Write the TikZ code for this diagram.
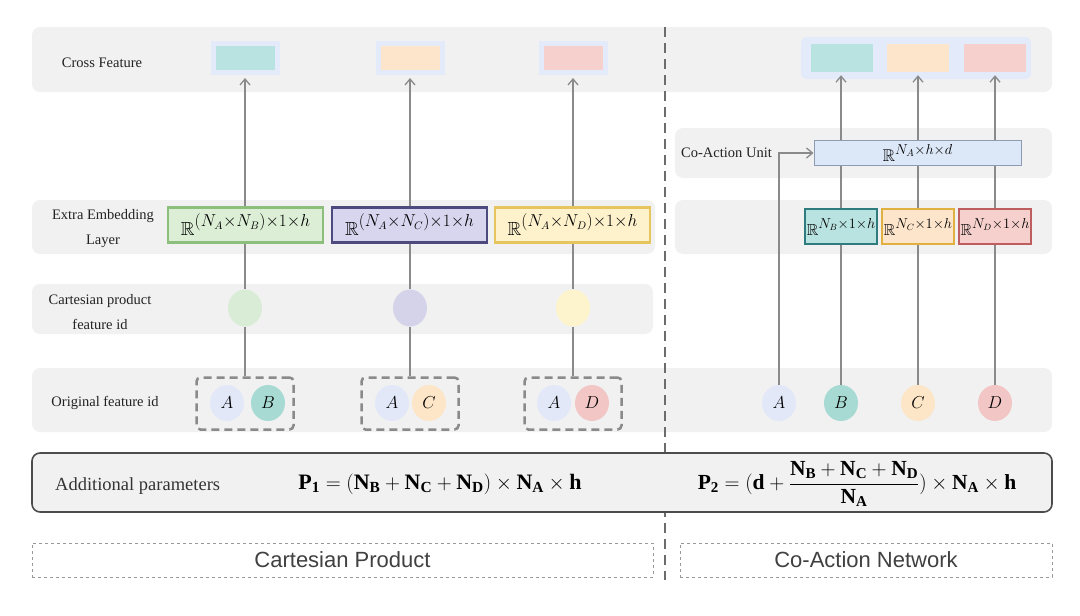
\documentclass[tikz,border=0pt]{standalone}
\usepackage{amsmath,amssymb}
\usepackage{fontspec}
\setmainfont{Liberation Serif}
\setsansfont{Liberation Sans}
\usetikzlibrary{arrows.meta,shapes.geometric}
\pgfdeclarelayer{bands}
\pgfdeclarelayer{lines}
\pgfsetlayers{bands,lines,main}
\definecolor{bandc}{HTML}{F1F1F2}
\definecolor{glowc}{HTML}{E3EAFA}
\definecolor{tealF}{HTML}{B9E3E0}
\definecolor{orangeF}{HTML}{FDE5CC}
\definecolor{pinkF}{HTML}{F5D0CC}
\definecolor{greenB}{HTML}{8CBF7C}
\definecolor{greenF}{HTML}{DCEFD6}
\definecolor{purpB}{HTML}{4C4A7E}
\definecolor{purpF}{HTML}{D8D6EF}
\definecolor{yelB}{HTML}{E6C45E}
\definecolor{yelF}{HTML}{FDF2CC}
\definecolor{tealB}{HTML}{2F7C7E}
\definecolor{oraB}{HTML}{E0B040}
\definecolor{pinkB}{HTML}{BE5E5E}
\definecolor{circA}{HTML}{E3E8F8}
\definecolor{circB}{HTML}{A6DAD2}
\definecolor{circC}{HTML}{FDE6C8}
\definecolor{circD}{HTML}{F1C6C4}
\definecolor{cpG}{HTML}{D9ECD5}
\definecolor{cpP}{HTML}{D5D3EA}
\definecolor{cpY}{HTML}{FDF3CD}
\definecolor{connc}{HTML}{8A8A8A}
\definecolor{coaF}{HTML}{DCE8F8}
\definecolor{coaB}{HTML}{8E9CB2}
\definecolor{txt}{HTML}{222222}
% R with a large raised superscript: #1 = superscript size, #2 = raise, #3 = superscript
\newcommand{\bigsup}[3]{\mathbb{R}\raisebox{#2}{\fontsize{#1}{#1}\selectfont$#3$}}
\newcommand{\tx}{{\times}}
\begin{document}
\begin{tikzpicture}[x=1pt,y=-1pt,
  band/.style={fill=bandc,rounded corners=8pt},
  lab/.style={font=\fontsize{14.5}{25}\selectfont,text=txt,align=center,inner sep=0pt},
  crossbox/.style={minimum width=64pt,minimum height=29pt,draw=glowc,line width=5pt,inner sep=0pt},
  rcross/.style={minimum width=62pt,minimum height=28pt,inner sep=0pt},
  embbox/.style={minimum width=155pt,minimum height=35pt,line width=2.6pt,inner sep=0pt,font=\fontsize{19}{20}\selectfont},
  rembbox/.style={minimum width=72pt,minimum height=35pt,line width=2.6pt,inner sep=0pt,font=\fontsize{16}{16}\selectfont},
  cpcirc/.style={ellipse,minimum width=34pt,minimum height=37pt,inner sep=0pt},
  fcirc/.style={ellipse,minimum width=34pt,minimum height=36pt,inner sep=0pt,font=\fontsize{19}{20}\selectfont},
  grpbox/.style={minimum width=97pt,minimum height=52pt,draw=connc,line width=2.5pt,dash pattern=on 8pt off 5pt,rounded corners=4pt},
  conn/.style={draw=connc,line width=1.4pt},
  arr/.style={conn,-{Straight Barb[length=6pt,width=10pt,line width=1.3pt]}},
  bottombox/.style={draw=gray!80,dashed,line width=1pt,minimum height=34pt,font=\sffamily\fontsize{22}{24}\selectfont,text=black!75}
]
\useasboundingbox (0,0) rectangle (1080,616);

% bands
\begin{pgfonlayer}{bands}
\fill[band] (32,27) rectangle (1052,92);
\fill[band] (675,128) rectangle (1052,178);
\fill[band] (32,200) rectangle (655,254);
\fill[band] (675,200) rectangle (1052,254);
\fill[band] (32,284) rectangle (653,334);
\fill[band] (32,368) rectangle (1052,432);
\fill[glowc,rounded corners=5pt] (801,37) rectangle (1031,79);
\end{pgfonlayer}

% row labels
\node[lab] (lcf) at (102,63) {Cross Feature};
\node[lab] (lee) at (103,229) {Extra Embedding\\Layer};
\node[lab] (lcp) at (100,312) {Cartesian product\\feature id};
\node[lab] (lof) at (105,403) {Original feature id};
\node[lab,anchor=west] (lcu) at (681,153) {Co-Action Unit};

% left cross features
\node[crossbox,fill=tealF] (cf1) at (245,58) {};
\node[crossbox,fill=orangeF] (cf2) at (410,58) {};
\node[crossbox,fill=pinkF] (cf3) at (573,58) {};

% left embeddings
\node[embbox,draw=greenB,fill=greenF] (e1) at (245.5,225) {$\bigsup{16}{9pt}{(N_A\tx N_B)\tx 1\tx h}$};
\node[embbox,draw=purpB,fill=purpF] (e2) at (409.5,225) {$\bigsup{16}{9pt}{(N_A\tx N_C)\tx 1\tx h}$};
\node[embbox,draw=yelB,fill=yelF] (e3) at (572.5,225) {$\bigsup{16}{9pt}{(N_A\tx N_D)\tx 1\tx h}$};

% cartesian ids
\node[cpcirc,fill=cpG] (c1) at (245,308) {};
\node[cpcirc,fill=cpP] (c2) at (410,308) {};
\node[cpcirc,fill=cpY] (c3) at (573,308) {};

% original ids left
\node[grpbox] (g1) at (245,403.5) {};
\node[grpbox] (g2) at (410,403.5) {};
\node[grpbox] (g3) at (573,403.5) {};
\node[fcirc,fill=circA] (a1) at (227,403) {$A$};
\node[fcirc,fill=circB] (b1) at (268,403) {$B$};
\node[fcirc,fill=circA] (a2) at (392,403) {$A$};
\node[fcirc,fill=circC] (cc2) at (429,403) {$C$};
\node[fcirc,fill=circA] (a3) at (554,403) {$A$};
\node[fcirc,fill=circD] (d3) at (592,403) {$D$};

% right side
\node[rcross,fill=tealF] (rcf1) at (842,58) {};
\node[rcross,fill=orangeF] (rcf2) at (918,58) {};
\node[rcross,fill=pinkF] (rcf3) at (995,58) {};
\node[draw=coaB,fill=coaF,line width=1pt,minimum width=207pt,minimum height=25pt,inner sep=0pt,font=\fontsize{17}{18}\selectfont] (cau) at (917.5,153) {$\bigsup{14.5}{7pt}{N_A\tx h\tx d}$};
\node[rembbox,draw=tealB,fill=tealF] (re1) at (841,226.5) {$\bigsup{13.5}{7pt}{N_B\tx 1\tx h}$};
\node[rembbox,draw=oraB,fill=orangeF] (re2) at (918,226.5) {$\bigsup{13.5}{7pt}{N_C\tx 1\tx h}$};
\node[rembbox,draw=pinkB,fill=pinkF] (re3) at (995,226.5) {$\bigsup{13.5}{7pt}{N_D\tx 1\tx h}$};
\node[fcirc,fill=circA] (rA) at (779,403) {$A$};
\node[fcirc,fill=circB] (rB) at (841,403) {$B$};
\node[fcirc,fill=circC] (rC) at (918,403) {$C$};
\node[fcirc,fill=circD] (rD) at (995,403) {$D$};

% connectors
\begin{pgfonlayer}{lines}
\draw[conn] (g1.north) -- (c1.south);
\draw[conn] (g2.north) -- (c2.south);
\draw[conn] (g3.north) -- (c3.south);
\draw[conn] (c1.north) -- (e1.south -| c1.north);
\draw[conn] (c2.north) -- (e2.south -| c2.north);
\draw[conn] (c3.north) -- (e3.south -| c3.north);
\draw[arr] (e1.north -| cf1.south) -- ([yshift=-3pt]cf1.south);
\draw[arr] (e2.north -| cf2.south) -- ([yshift=-3pt]cf2.south);
\draw[arr] (e3.north -| cf3.south) -- ([yshift=-3pt]cf3.south);
\draw[arr] (rB.north) -- ([yshift=-3pt]rB.north |- rcf1.south);
\draw[arr] (rC.north) -- ([yshift=-3pt]rC.north |- rcf2.south);
\draw[arr] (rD.north) -- ([yshift=-3pt]rD.north |- rcf3.south);
\draw[arr] (rA.north) |- (cau.west);
\end{pgfonlayer}

% divider
\coordinate (dtop) at (665,27);
\coordinate (dbot) at (665,580);
\draw[draw=gray!85!black,line width=2.6pt,dash pattern=on 10pt off 6pt] (dtop) -- (dbot);

% parameters
\node[draw=black!70,fill=bandc,line width=1.6pt,rounded corners=8pt,minimum width=1020pt,minimum height=59pt] (pb) at (542,482.5) {};
\node[font=\fontsize{18.5}{20}\selectfont,text=black!80,anchor=west,inner sep=0pt] (addl) at (55,486) {Additional parameters};
\node[font=\fontsize{22}{24}\selectfont,inner sep=0pt] (p1) at (440,484) {$\mathbf{P_1 = (N_B + N_C + N_D)\times N_A\times h}$};
\node[font=\fontsize{21.5}{24}\selectfont,inner sep=0pt] (p2) at (857,484) {$\mathbf{P_2 = (d + \dfrac{N_B+N_C+N_D}{N_A})\times N_A\times h}$};

% bottom labels
\node[bottombox,minimum width=621pt] (lcart) at (342.5,560) {Cartesian Product};
\node[bottombox,minimum width=372pt] (lcoa) at (866,560) {Co-Action Network};
\end{tikzpicture}
\end{document}
